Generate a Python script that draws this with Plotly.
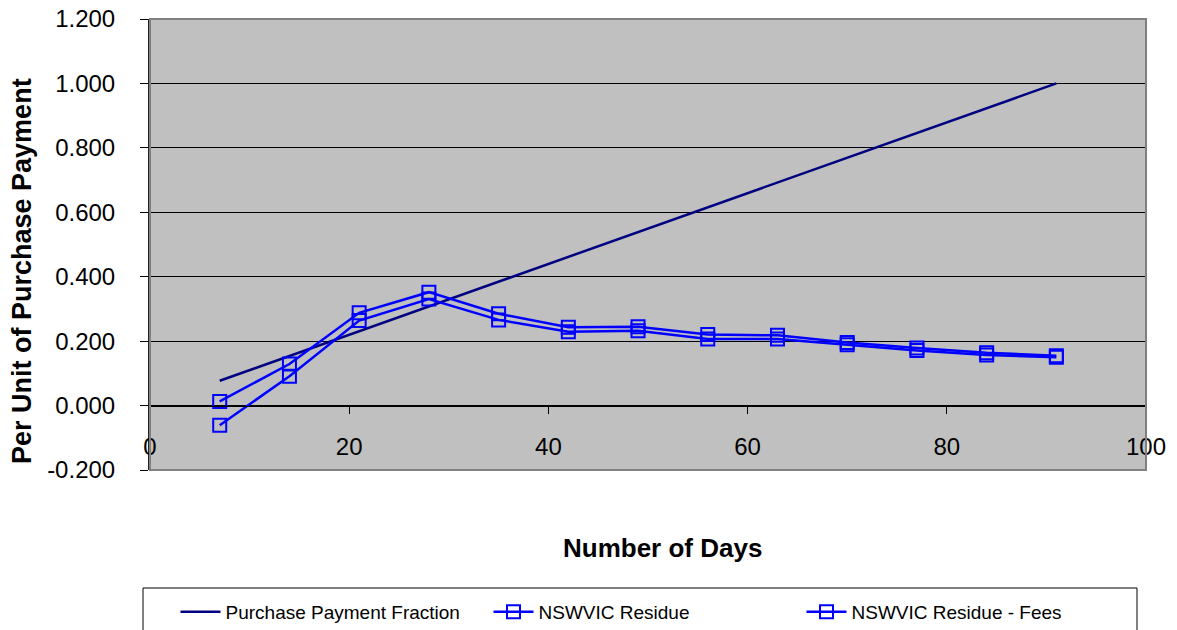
import plotly.graph_objects as go

days = [7, 14, 21, 28, 35, 42, 49, 56, 63, 70, 77, 84, 91]
purchase_fraction = [0.077, 0.154, 0.231, 0.308, 0.385, 0.462, 0.538, 0.615, 0.692, 0.769, 0.846, 0.923, 1.000]
nswvic_residue = [0.013, 0.129, 0.288, 0.352, 0.285, 0.243, 0.245, 0.221, 0.218, 0.196, 0.179, 0.164, 0.155]
nswvic_residue_fees = [-0.061, 0.091, 0.264, 0.331, 0.266, 0.229, 0.232, 0.207, 0.207, 0.189, 0.171, 0.157, 0.150]

y_ticks = [-0.2, 0.0, 0.2, 0.4, 0.6, 0.8, 1.0, 1.2]
y_tick_labels = ["-0.200", "0.000", "0.200", "0.400", "0.600", "0.800", "1.000", "1.200"]
x_ticks = [0, 20, 40, 60, 80, 100]
x_tick_labels = ["0", "20", "40", "60", "80", "100"]

FONT = "Liberation Sans, Arial, sans-serif"

fig = go.Figure()
fig.add_trace(go.Scatter(
    x=days, y=purchase_fraction, name="Purchase Payment Fraction",
    mode="lines", line=dict(color="#000080", width=2.5),
))
fig.add_trace(go.Scatter(
    x=days, y=nswvic_residue, name="NSWVIC Residue",
    mode="lines+markers", line=dict(color="#0000FF", width=2.5),
    marker=dict(symbol="square-open", size=13, color="#0000FF", line=dict(width=2, color="#0000FF")),
))
fig.add_trace(go.Scatter(
    x=days, y=nswvic_residue_fees, name="NSWVIC Residue - Fees",
    mode="lines+markers", line=dict(color="#0000FF", width=2.5),
    marker=dict(symbol="square-open", size=13, color="#0000FF", line=dict(width=2, color="#0000FF")),
))

L, R, T, B = 150, 31, 19, 160
W, H = 1177, 630
pw, ph = W - L - R, H - T - B

def px_x(p):
    return (p - L) / pw

def px_y(p):
    return (H - B - p) / ph

fig.update_layout(
    width=W, height=H,
    margin=dict(l=L, r=R, t=T, b=B, autoexpand=False),
    paper_bgcolor="white",
    plot_bgcolor="#C0C0C0",
    font=dict(family=FONT, color="black", size=24),
    showlegend=True,
    legend=dict(
        orientation="h", x=px_x(645), y=px_y(612), xanchor="center", yanchor="middle",
        font=dict(family=FONT, size=19, color="black"),
        bgcolor="rgba(0,0,0,0)", borderwidth=0, itemwidth=40,
        entrywidth=258, entrywidthmode="pixels",
    ),
    xaxis=dict(
        range=[0, 100], tickvals=x_ticks, ticktext=x_tick_labels,
        anchor="free", position=(0 - (-0.2)) / 1.4,
        showgrid=False, zeroline=False,
        showline=True, linecolor="black", linewidth=1,
        ticks="outside", ticklen=7, tickcolor="black", tickwidth=1,
        ticklabelstandoff=13,
        tickfont=dict(family=FONT, size=24, color="black"),
    ),
    yaxis=dict(
        range=[-0.2, 1.2], tickvals=y_ticks, ticktext=y_tick_labels,
        showgrid=True, gridcolor="black", gridwidth=1, zeroline=False,
        showline=True, linecolor="#222222", linewidth=2,
        ticks="outside", ticklen=8, tickcolor="black", tickwidth=1,
        ticklabelstandoff=20,
        tickfont=dict(family=FONT, size=24, color="black"),
    ),
    shapes=[
        dict(type="rect", xref="paper", yref="paper", x0=0, x1=1, y0=0, y1=1,
             line=dict(color="#808080", width=2), fillcolor="rgba(0,0,0,0)", layer="above"),
        dict(type="rect", xref="paper", yref="paper",
             x0=px_x(143), x1=px_x(1137), y0=px_y(588), y1=px_y(640),
             line=dict(color="black", width=1), fillcolor="rgba(0,0,0,0)", layer="above"),
    ],
    annotations=[
        dict(text="<b>Number of Days</b>", xref="paper", yref="paper",
             x=px_x(662), y=px_y(548), xanchor="center", yanchor="middle",
             showarrow=False, font=dict(family=FONT, size=26, color="black")),
        dict(text="<b>Per Unit of Purchase Payment</b>", xref="paper", yref="paper",
             x=px_x(22), y=px_y(271), xanchor="center", yanchor="middle", textangle=-90,
             showarrow=False, font=dict(family=FONT, size=27, color="black")),
    ],
)

fig.write_html(
    "out.html",
    config={"displayModeBar": False},
    post_script="document.body.style.margin='0';document.body.style.overflow='hidden';",
)
